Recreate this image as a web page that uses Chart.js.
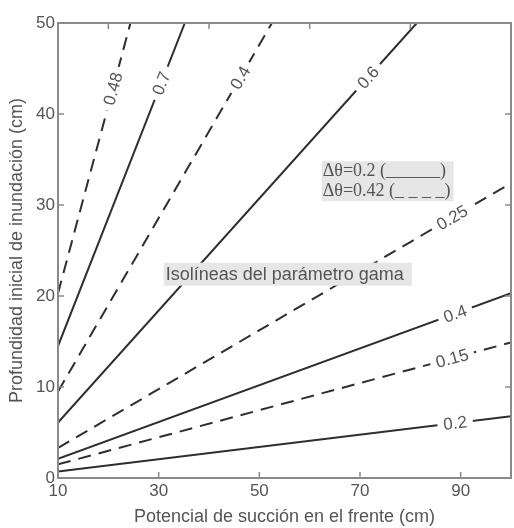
<!DOCTYPE html>
<html>
<head>
<meta charset="utf-8">
<script src="https://cdn.jsdelivr.net/npm/chart.js@4"></script>
<style>
html, body { margin: 0; padding: 0; background: #fff; }
</style>
</head>
<body>
<canvas id="chart" width="514" height="528"></canvas>
<script>
// isolineas del parametro gama: solid = dtheta 0.2, dashed = dtheta 0.42
const solidGamma = ["0.7", "0.6", "0.4", "0.2"]
const solidX = [[10, 35.2], [10, 81.3], [10, 100], [10, 100]]
const solidY = [[14.5, 50], [6.1, 50], [2.1, 20.3], [0.7, 6.8]]
const solidLabelAt = [30.5, 71.6, 88.9, 88.9]

const dashedGamma = ["0.48", "0.4", "0.25", "0.15"]
const dashedX = [[10, 24.4], [10, 52.5], [10, 100], [10, 100]]
const dashedY = [[20.3, 50], [9.5, 50], [3.3, 32.4], [1.5, 14.9]]
const dashedLabelAt = [20.9, 46.2, 88.3, 88.3]

const xTicks = [10, 30, 50, 70, 90]
const yTicks = [0, 10, 20, 30, 40, 50]
const xTicksTop = [20, 40, 60, 80]
const yTicksRight = [10, 20, 30, 40]

const lineColor = "#2e2e2e"
const textColor = "#555"
const frameColor = "#8a8a8a"
const sans = "'Liberation Sans', Arial, sans-serif"

function makeSet(xs, ys, gamma, labelAt, dash){
    let pts = []
    for(let i = 0; i < xs.length; i++){
        pts.push({x: xs[i], y: ys[i]})
    }
    return {
        data: pts,
        borderColor: lineColor,
        borderWidth: 2,
        borderDash: dash,
        pointRadius: 0,
        tension: 0,
        gamma: gamma,
        labelAt: labelAt
    }
}

let datasets = []
for(let i = 0; i < solidGamma.length; i++){
    datasets.push(makeSet(solidX[i], solidY[i], solidGamma[i], solidLabelAt[i], []))
}
for(let i = 0; i < dashedGamma.length; i++){
    datasets.push(makeSet(dashedX[i], dashedY[i], dashedGamma[i], dashedLabelAt[i], [13, 8]))
}

// contour labels written along each line, breaking it
const lineLabels = {
    id: "lineLabels",
    afterDatasetsDraw(chart){
        const ctx = chart.ctx
        const xs = chart.scales.x
        chart.data.datasets.forEach((ds, i) => {
            const pts = chart.getDatasetMeta(i).data
            const p0 = pts[0], p1 = pts[pts.length - 1]
            const lx = xs.getPixelForValue(ds.labelAt)
            const t = (lx - p0.x) / (p1.x - p0.x)
            const ly = p0.y + t * (p1.y - p0.y)
            const ang = Math.atan2(p1.y - p0.y, p1.x - p0.x)
            ctx.save()
            ctx.translate(lx, ly)
            ctx.rotate(ang)
            ctx.font = "17px " + sans
            const w = ctx.measureText(ds.gamma).width
            ctx.fillStyle = "#fff"
            ctx.fillRect(-w / 2 - 6, -8, w + 12, 16)
            ctx.fillStyle = textColor
            ctx.textAlign = "center"
            ctx.textBaseline = "middle"
            ctx.fillText(ds.gamma, 0, 1)
            ctx.restore()
        })
    }
}

// box, inner ticks and the text notes
const frameAndNotes = {
    id: "frameAndNotes",
    afterDraw(chart){
        const ctx = chart.ctx
        const a = chart.chartArea
        const xs = chart.scales.x, ys = chart.scales.y
        ctx.save()
        ctx.strokeStyle = frameColor
        ctx.lineWidth = 2
        ctx.strokeRect(a.left, a.top, a.right - a.left, a.bottom - a.top)
        ctx.lineWidth = 1.5
        ctx.beginPath()
        for(let v of xTicks){
            let px = xs.getPixelForValue(v)
            ctx.moveTo(px, a.bottom); ctx.lineTo(px, a.bottom - 6)
        }
        for(let v of xTicksTop){
            let px = xs.getPixelForValue(v)
            ctx.moveTo(px, a.top); ctx.lineTo(px, a.top + 6)
        }
        for(let v of yTicks){
            let py = ys.getPixelForValue(v)
            ctx.moveTo(a.left, py); ctx.lineTo(a.left + 6, py)
        }
        for(let v of yTicksRight){
            let py = ys.getPixelForValue(v)
            ctx.moveTo(a.right, py); ctx.lineTo(a.right - 6, py)
        }
        ctx.stroke()

        // "Isolineas" note
        ctx.font = "18px " + sans
        ctx.textBaseline = "middle"
        let gx = xs.getPixelForValue(31), gy = ys.getPixelForValue(22.4)
        let gw = ctx.measureText("Isolíneas del parámetro gama").width
        ctx.fillStyle = "#e6e6e6"
        ctx.fillRect(gx, gy - 11.5, gw + 10, 23)
        ctx.fillStyle = textColor
        ctx.fillText("Isolíneas del parámetro gama", gx + 2, gy + 1)

        // line style key
        ctx.font = "18px 'Liberation Serif', 'Times New Roman', serif"
        let kx = xs.getPixelForValue(62.4)
        let keys = ["Δθ=0.2 (______)", "Δθ=0.42 (_ _ _ _)"]
        let kyv = [33.7, 31.5]
        let kw = Math.max(...keys.map(k => ctx.measureText(k).width))
        ctx.fillStyle = "#e6e6e6"
        ctx.fillRect(kx, ys.getPixelForValue(kyv[0]) - 10, kw + 4, 40)
        ctx.fillStyle = textColor
        keys.forEach((k, i) => {
            ctx.fillText(k, kx + 1, ys.getPixelForValue(kyv[i]))
        })
        ctx.restore()
    }
}

new Chart(document.getElementById("chart"), {
    type: "line",
    data: { datasets: datasets },
    options: {
        responsive: false,
        devicePixelRatio: 1,
        animation: false,
        layout: { padding: { top: 23, right: 3, left: 0, bottom: 0 } },
        plugins: { legend: { display: false }, tooltip: { enabled: false } },
        scales: {
            x: {
                type: "linear",
                min: 10,
                max: 100,
                afterBuildTicks: s => { s.ticks = xTicks.map(v => ({value: v})) },
                afterFit: s => { s.height = 50 },
                grid: { display: false, drawTicks: false },
                border: { display: false },
                ticks: { color: textColor, font: { size: 17, family: sans }, padding: 3, maxRotation: 0 },
                title: {
                    display: true,
                    text: "Potencial de succión en el frente (cm)",
                    color: textColor,
                    font: { size: 18, family: sans },
                    padding: { top: 0, bottom: 0 }
                }
            },
            y: {
                type: "linear",
                min: 0,
                max: 50,
                afterBuildTicks: s => { s.ticks = yTicks.map(v => ({value: v})) },
                afterFit: s => { s.width = 58 },
                grid: { display: false, drawTicks: false },
                border: { display: false },
                ticks: { color: textColor, font: { size: 17, family: sans }, padding: 3 },
                title: {
                    display: true,
                    text: "Profundidad inicial de inundación (cm)",
                    color: textColor,
                    font: { size: 18, family: sans },
                    padding: { top: 6, bottom: 0 }
                }
            }
        }
    },
    plugins: [lineLabels, frameAndNotes]
})
</script>
</body>
</html>
